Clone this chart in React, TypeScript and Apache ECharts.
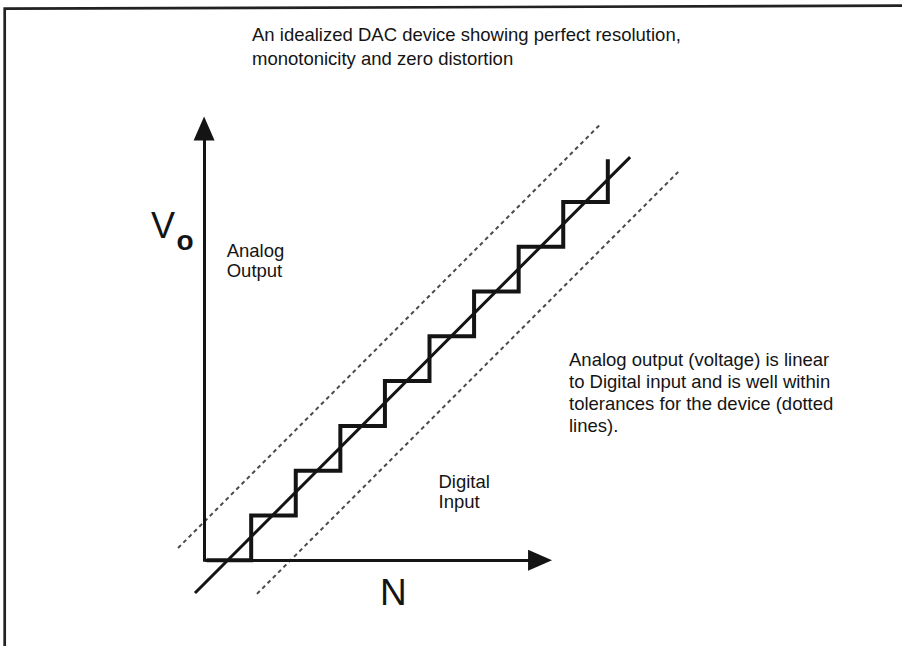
import React, { useEffect, useRef } from 'react';
import * as echarts from 'echarts';

// ---- data (in units of DAC codes N and output steps Vo) ----
const dacCodes = [0, 1, 2, 3, 4, 5, 6, 7, 8, 9];
const dacOutput = [0, 1, 2, 3, 4, 5, 6, 7, 8, 8.95];
const idealN = [-0.26, 9.5];
const idealV = [-0.73, 9.0];
const upperTolN = [-0.64, 8.82];
const upperTolV = [0.275, 9.72];
const lowerTolN = [1.13, 10.58];
const lowerTolV = [-0.75, 8.67];
// visible axis extents (arrow centres)
const xAxisMax = 7.48;
const yAxisMax = 9.64;
// plotting extents for the drawing layer
const plotNMin = -1;
const plotNMax = 11;
const plotVMin = -1;
const plotVMax = 10;

// ---- texts ----
const titleLines = ['An idealized DAC device showing perfect resolution,', 'monotonicity and zero distortion'];
const yAxisSymbol = 'V';
const yAxisSub = 'o';
const xAxisSymbol = 'N';
const yAxisTitle = ['Analog', 'Output'];
const xAxisTitle = ['Digital', 'Input'];
const noteLines = [
  'Analog output (voltage) is linear',
  'to Digital input and is well within',
  'tolerances for the device (dotted',
  'lines).',
];

// ---- layout ----
const X0 = 206.6;
const UX = 44.58;
const Y0 = 560.3;
const UY = 44.8;
const FONT = '"Liberation Sans", Arial, Helvetica, sans-serif';
const INK = '#141414';

const pairs = (xs: number[], ys: number[]) => xs.map((x, i) => [x, ys[i]]);

export default function App() {
  const ref = useRef<HTMLDivElement>(null);
  useEffect(() => {
    if (!ref.current) return;
    const chart = echarts.init(ref.current, undefined, { renderer: 'svg' });
    const axisCommon = {
      type: 'value' as const,
      axisTick: { show: false },
      axisLabel: { show: false },
      splitLine: { show: false },
    };
    const arrowLine = {
      show: true,
      onZero: false,
      symbol: ['none', 'triangle'],
      symbolSize: [21, 24],
      lineStyle: { color: INK, width: 3, cap: 'square' },
    };
    const hiddenAxis = { type: 'value' as const, show: false, gridIndex: 1 };
    const txt = (text: string, x: number, y: number, extra: any = {}) => ({
      type: 'text',
      x,
      y,
      silent: true,
      style: {
        text,
        fill: INK,
        fontFamily: FONT,
        fontSize: 18.5,
        align: 'left',
        verticalAlign: 'top',
        ...extra,
      },
    });
    const onPlot = { xAxisIndex: 1, yAxisIndex: 1, symbol: 'none', clip: false, silent: true };
    chart.setOption({
      animation: false,
      backgroundColor: '#ffffff',
      grid: [
        {
          left: X0,
          top: Y0 - yAxisMax * UY,
          width: xAxisMax * UX,
          height: yAxisMax * UY,
          containLabel: false,
        },
        {
          left: X0 + plotNMin * UX,
          top: Y0 - plotVMax * UY,
          width: (plotNMax - plotNMin) * UX,
          height: (plotVMax - plotVMin) * UY,
          containLabel: false,
        },
      ],
      xAxis: [
        { ...axisCommon, gridIndex: 0, min: 0, max: xAxisMax, axisLine: arrowLine, z: 5 },
        { ...hiddenAxis, min: plotNMin, max: plotNMax },
      ],
      yAxis: [
        { ...axisCommon, gridIndex: 0, min: 0, max: yAxisMax, offset: 2.5, axisLine: arrowLine, z: 5 },
        { ...hiddenAxis, min: plotVMin, max: plotVMax },
      ],
      series: [
        {
          type: 'line',
          ...onPlot,
          data: pairs(upperTolN, upperTolV),
          lineStyle: { color: '#4a4a4a', width: 2, type: [4, 3.5] },
          z: 1,
        },
        {
          type: 'line',
          ...onPlot,
          data: pairs(lowerTolN, lowerTolV),
          lineStyle: { color: '#4a4a4a', width: 2, type: [4, 3.5] },
          z: 1,
        },
        {
          type: 'line',
          ...onPlot,
          data: pairs(idealN, idealV),
          lineStyle: { color: INK, width: 3 },
          z: 2,
        },
        {
          type: 'line',
          ...onPlot,
          step: 'end',
          data: pairs(dacCodes, dacOutput),
          lineStyle: { color: INK, width: 4, join: 'miter', cap: 'butt' },
          z: 3,
        },
      ],
      graphic: [
        {
          type: 'polyline',
          silent: true,
          shape: { points: [[902, 5.7], [4.7, 8.7], [4.7, 646]] },
          style: { stroke: '#222', lineWidth: 2.7, fill: 'none' },
        },
        txt(titleLines.join('\n'), 252, 22.5, { lineHeight: 24 }),
        txt(yAxisTitle.join('\n'), 226.7, 240, { lineHeight: 20 }),
        txt(xAxisTitle.join('\n'), 438.5, 471, { lineHeight: 20.3 }),
        txt(noteLines.join('\n'), 569, 348.5, { lineHeight: 22 }),
        txt(yAxisSymbol, 151, 225.5, { fontSize: 36, verticalAlign: 'middle' }),
        txt(yAxisSub, 176.5, 240.3, { fontSize: 28, fontWeight: 'bold', verticalAlign: 'middle' }),
        txt(xAxisSymbol, 380, 592.2, { fontSize: 37, verticalAlign: 'middle' }),
      ],
    });
    return () => chart.dispose();
  }, []);
  return (
    <div
      ref={ref}
      style={{ position: 'fixed', left: 0, top: 0, width: 902, height: 646, background: '#fff' }}
    />
  );
}
